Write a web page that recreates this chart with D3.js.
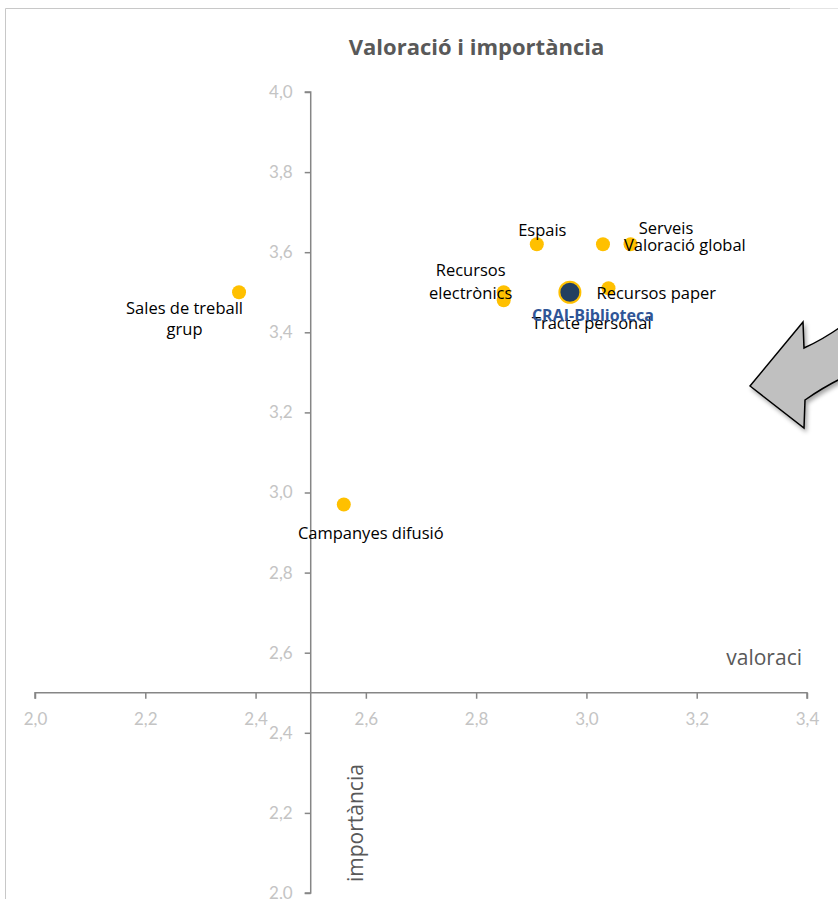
<!DOCTYPE html>
<html><head><meta charset="utf-8">
<script src="https://cdn.jsdelivr.net/npm/d3@7"></script>
<style>body{margin:0;background:#fff;}svg{display:block;}</style>
</head><body>
<svg id="c" width="838" height="899"></svg>
<script>
const names = ["Sales de treball grup","Campanyes difusió","Espais","Valoració global","Serveis","Recursos electrònics","Tracte personal","Recursos paper"];
const valoracio = [2.37, 2.56, 2.91, 3.03, 3.08, 2.85, 2.85, 3.04];
const importancia = [3.50, 2.97, 3.62, 3.62, 3.62, 3.50, 3.48, 3.51];
const mainName = "CRAI-Biblioteca";
const mainValoracio = 2.97;
const mainImportancia = 3.50;
const xTicks = [2.0,2.2,2.4,2.6,2.8,3.0,3.2,3.4];
const yTicks = [2.0,2.2,2.4,2.6,2.8,3.0,3.2,3.4,3.6,3.8,4.0];

// label layout (pixel offsets from point; lines)
const labelLayout = {
  "Sales de treball grup": {lines:["Sales de treball","grup"], dx:-54.5, dy:22, anchor:"middle", lh:21},
  "Campanyes difusió": {lines:["Campanyes difusió"], dx:27, dy:34, anchor:"middle"},
  "Espais": {lines:["Espais"], dx:5.5, dy:-8, anchor:"middle"},
  "Valoració global": {lines:["Valoració global"], dx:21, dy:7, anchor:"start"},
  "Serveis": {lines:["Serveis"], dx:35.5, dy:-10, anchor:"middle"},
  "Recursos electrònics": {lines:["Recursos","electrònics"], dx:-33, dy:-16, anchor:"middle", lh:23},
  "Tracte personal": {lines:["Tracte personal"], dx:88, dy:29, anchor:"middle"},
  "Recursos paper": {lines:["Recursos paper"], dx:-12, dy:11, anchor:"start"}
};

const svg = d3.select("#c");
const font = "'Open Sans', sans-serif";
const tickFont = "Lato, sans-serif";
const x = d3.scaleLinear().domain([2.0,3.4]).range([35,807]);
const y = d3.scaleLinear().domain([2.0,4.0]).range([893,92]);

const defs = svg.append("defs");
const f = defs.append("filter").attr("id","sh").attr("x","-30%").attr("y","-30%").attr("width","160%").attr("height","160%");
f.append("feDropShadow").attr("dx",2).attr("dy",3).attr("stdDeviation",2).attr("flood-color","#000").attr("flood-opacity",0.35);

// chart border
svg.append("path").attr("d","M5.5,899 V8.5 H790").attr("fill","none").attr("stroke","#c8c8c8").attr("stroke-width",1);
svg.append("path").attr("d","M790,8.5 H838").attr("fill","none").attr("stroke","#e4e4e4").attr("stroke-width",1);

// title
svg.append("text").attr("x",476.5).attr("y",55).attr("text-anchor","middle")
  .attr("font-family",font).attr("font-weight","bold").attr("font-size",22).attr("fill","#595959")
  .text("Valoració i importància");

// axes
const fmt = d => d3.format(".1f")(d).replace(".",",");
const xAxis = d3.axisBottom(x).tickValues(xTicks).tickSize(6).tickFormat(fmt);
const yAxis = d3.axisLeft(y).tickValues(yTicks).tickSize(6).tickFormat(fmt);
const gx = svg.append("g").attr("transform",`translate(0,${y(2.5)})`).call(xAxis);
const gy = svg.append("g").attr("transform",`translate(${x(2.5)},0)`).call(yAxis);
[gx,gy].forEach(g=>{
  g.select(".domain").attr("stroke","#868686").attr("stroke-width",1.5);
  g.selectAll(".tick line").attr("stroke","#868686").attr("stroke-width",1.5);
  g.selectAll(".tick text").attr("fill","#c4c4c4").attr("font-family",tickFont).attr("font-size",17);
});
gx.select(".domain").attr("d",`M${x(2.0)},6V0H${x(3.4)}V6`);
gx.selectAll(".tick text").attr("y",20).attr("dy","0.71em");
gy.selectAll(".tick text").attr("x",-18).attr("dy","0.32em");
gy.select(".domain").attr("d",`M-6,${y(4.0)}H0V${y(2.0)}H-6`);

// axis titles
svg.append("text").attr("x",802).attr("y",665).attr("text-anchor","end")
  .attr("font-family",font).attr("font-size",21).attr("fill","#595959").text("valoraci");
svg.append("text").attr("transform","translate(363,882) rotate(-90)")
  .attr("font-family",font).attr("font-size",21).attr("fill","#595959").text("importància");

// points
const pts = names.map((n,i)=>({name:n, v:valoracio[i], imp:importancia[i]}));
svg.append("g").selectAll("circle").data(pts).join("circle")
  .attr("cx",d=>x(d.v)).attr("cy",d=>y(d.imp)).attr("r",7).attr("fill","#ffc000");

// main point
svg.append("circle").attr("cx",x(mainValoracio)).attr("cy",y(mainImportancia)).attr("r",10.5)
  .attr("fill","#243f60").attr("stroke","#ffc000").attr("stroke-width",2);

// labels
const lg = svg.append("g").attr("font-family",font).attr("font-size",16.5).attr("fill","#000");
pts.forEach(d=>{
  const L = labelLayout[d.name];
  const t = lg.append("text").attr("text-anchor",L.anchor);
  L.lines.forEach((ln,j)=>{
    t.append("tspan").attr("x",x(d.v)+L.dx).attr("y",y(d.imp)+L.dy+j*(L.lh||20)).text(ln);
  });
});
svg.append("text").attr("x",x(mainValoracio)+23).attr("y",y(mainImportancia)+29).attr("text-anchor","middle")
  .attr("font-family",font).attr("font-size",16).attr("font-weight","bold").attr("fill","#2f5597")
  .text(mainName);

// block arrow
svg.append("path")
  .attr("d","M750,386 L803,322 L804,348 Q822,340 842,326 L842,378 Q822,388 805,400 L804,428 Z")
  .attr("fill","#c0c0c0").attr("stroke","#000").attr("stroke-width",1.5).attr("stroke-linejoin","miter")
  .attr("filter","url(#sh)");
</script>
</body></html>
